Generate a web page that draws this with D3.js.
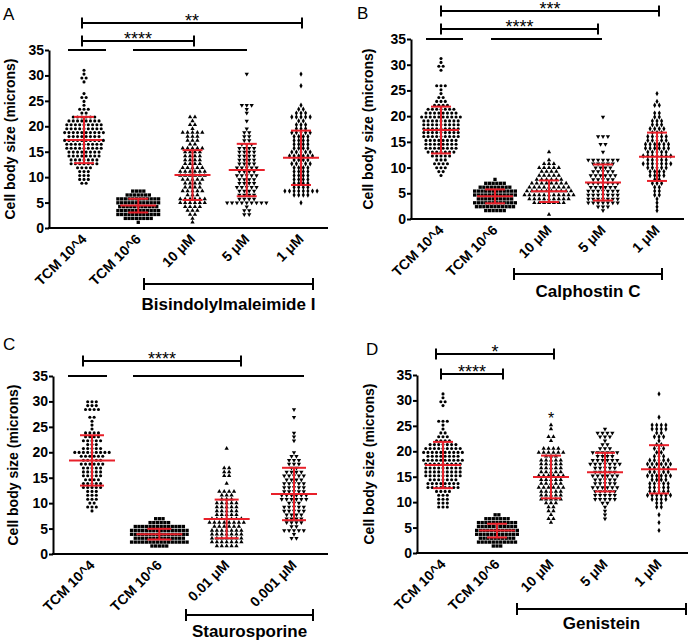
<!DOCTYPE html>
<html>
<head>
<meta charset="utf-8">
<script src="https://cdn.jsdelivr.net/npm/d3@7"></script>
<style>
  body { margin: 0; background: #fff; }
  svg { display: block; }
</style>
</head>
<body>
<svg id="chart" width="688" height="644"></svg>
<script>
// ---------- data (cell body size, microns) ----------
const yTicks = [0, 5, 10, 15, 20, 25, 30, 35]

const catsA = ["TCM 10^4", "TCM 10^6", "10 \u03bcM", "5 \u03bcM", "1 \u03bcM"]
const catsB = ["TCM 10^4", "TCM 10^6", "10 \u03bcM", "5 \u03bcM", "1 \u03bcM"]
const catsC = ["TCM 10^4", "TCM 10^6", "0.01 \u03bcM", "0.001 \u03bcM"]
const catsD = ["TCM 10^4", "TCM 10^6", "10 \u03bcM", "5 \u03bcM", "1 \u03bcM"]

const tcm4 = [31.2, 30.4, 29.7, 29.5, 28.7, 26.1, 25.8, 25.6, 25.2, 24.4, 23.6, 23.5, 23.0, 22.7, 22.5, 22.2,
  22.0, 21.9, 21.8, 21.6, 21.5, 21.4, 21.3, 21.2, 21.0, 21.0, 20.9, 20.8, 20.7, 20.6, 20.5, 20.5, 20.4, 20.3, 20.2, 20.1,
  20.0, 20.0, 19.9, 19.8, 19.7, 19.6, 19.5, 19.5, 19.4, 19.3, 19.2, 19.1, 19.0, 19.0, 18.9, 18.8, 18.7, 18.6, 18.5, 18.5,
  18.4, 18.3, 18.2, 18.1, 18.0, 18.0, 17.9, 17.8, 17.7, 17.6, 17.5, 17.5, 17.4, 17.3, 17.2, 17.1, 17.0, 17.0, 16.9, 16.8,
  16.7, 16.6, 16.5, 16.5, 16.4, 16.3, 16.2, 16.1, 16.0, 16.0, 15.9, 15.8, 15.7, 15.6, 15.5, 15.5, 15.4, 15.3, 15.2, 15.1,
  15.0, 14.9, 14.8, 14.7, 14.6, 14.5, 14.4, 14.3, 14.2, 14.1, 14.0, 13.9, 13.8, 13.7, 13.6, 13.5, 13.4, 13.3, 13.2, 13.1,
  13.0, 12.9, 12.8, 12.7, 12.6, 12.5, 12.4, 12.2, 12.0, 11.8, 11.5, 11.3, 11.1, 10.9, 10.6, 10.4, 10.1, 9.8, 9.6, 9.3, 9.0, 8.7]
const tcm6 = [7.4, 7.2, 7.0, 6.9, 6.8, 6.7, 6.6, 6.5, 6.4, 6.3, 6.2, 6.1, 6.1, 6.0, 5.9, 5.9, 5.8, 5.7, 5.7, 5.6, 5.5, 5.5,
  5.4, 5.3, 5.3, 5.2, 5.1, 5.1, 5.0, 4.9, 4.9, 4.8, 4.7, 4.7, 4.6, 4.5, 4.5, 4.4, 4.3, 4.3, 4.2, 4.1, 4.1, 4.0, 3.9, 3.9,
  3.8, 3.7, 3.7, 3.6, 3.5, 3.5, 3.4, 3.3, 3.3, 3.2, 3.1, 3.1, 3.0, 2.9, 2.9, 2.8, 2.7, 2.7, 2.6, 2.5, 2.5, 2.4, 2.3, 2.3,
  2.2, 2.1, 2.1, 2.0, 1.9, 1.8, 1.7, 1.6, 1.5]

const bis10 = [22.0, 21.6, 21.2, 20.5, 20.1, 19.4, 19.1, 18.9, 18.8, 18.6, 18.4, 18.2, 18.1, 17.8, 17.5, 17.3, 17.0, 16.6,
  16.2, 16.0, 15.9, 15.7, 15.5, 15.4, 15.2, 15.0, 14.8, 14.6, 14.4, 14.3, 14.1, 13.9, 13.7, 13.5, 13.3, 13.1, 13.0, 12.8,
  12.6, 12.4, 12.2, 12.0, 11.9, 11.7, 11.5, 11.4, 11.2, 11.1, 11.0, 10.9, 10.8, 10.6, 10.5, 10.4, 10.3, 10.2, 10.0, 9.9,
  9.7, 9.5, 9.4, 9.2, 9.0, 8.8, 8.7, 8.5, 8.3, 8.1, 7.9, 7.8, 7.6, 7.4, 7.2, 7.0, 6.9, 6.7, 6.5, 6.3, 6.1, 6.0, 5.8, 5.7,
  5.5, 5.4, 5.2, 5.1, 5.0, 4.8, 4.7, 4.6, 4.5, 4.4, 4.2, 4.0, 3.8, 3.5, 3.2, 2.9, 2.6, 1.8, 1.4]
const bis5 = [30.0, 24.4, 24.1, 23.8, 23.4, 22.5, 21.2, 19.6, 19.1, 18.7, 18.3, 17.8, 17.4, 17.0, 16.7, 16.4, 16.1, 15.9,
  15.7, 15.5, 15.4, 15.2, 15.0, 14.8, 14.6, 14.4, 14.2, 14.0, 13.9, 13.7, 13.5, 13.3, 13.1, 12.9, 12.8, 12.6, 12.4, 12.2,
  12.0, 11.9, 11.7, 11.5, 11.4, 11.2, 11.0, 10.9, 10.7, 10.5, 10.4, 10.2, 10.0, 9.9, 9.7, 9.5, 9.3, 9.1, 8.9, 8.8, 8.6,
  8.4, 8.2, 8.0, 7.8, 7.7, 7.5, 7.3, 7.1, 6.9, 6.8, 6.6, 6.4, 6.2, 6.0, 5.9, 5.7, 5.5, 5.3, 5.1, 5.0, 5.0, 4.9, 4.9, 4.8,
  4.8, 4.8, 4.1, 3.6, 3.4, 2.9, 2.8]
const bis1 = [30.5, 27.7, 23.8, 23.5, 23.2, 22.6, 22.4, 22.3, 22.2, 22.2, 22.1, 22.0, 21.6, 21.3, 21.0, 20.6, 20.3, 20.0,
  19.7, 19.4, 19.2, 19.0, 18.9, 18.8, 18.7, 18.5, 18.3, 18.1, 17.9, 17.7, 17.5, 17.3, 17.1, 16.9, 16.7, 16.5, 16.3, 16.1,
  15.9, 15.8, 15.6, 15.4, 15.3, 15.1, 14.9, 14.8, 14.6, 14.4, 14.3, 14.1, 14.0, 13.9, 13.8, 13.6, 13.4, 13.3, 13.1, 12.9,
  12.8, 12.6, 12.4, 12.3, 12.1, 11.9, 11.7, 11.5, 11.3, 11.1, 10.9, 10.8, 10.6, 10.4, 10.2, 10.0, 9.9, 9.7, 9.5, 9.3, 9.1,
  8.9, 8.7, 8.5, 8.3, 8.1, 7.9, 7.7, 7.5, 7.3, 7.2, 7.1, 7.0, 7.0, 6.9, 6.9, 6.8, 6.7, 6.6, 6.4, 4.7]

const cal10 = [13.2, 11.3, 10.9, 10.7, 10.5, 10.3, 10.1, 10.0, 9.8, 9.6, 9.5, 9.3, 9.1, 9.0, 8.8, 8.6, 8.5, 8.3, 8.2, 8.0,
  7.9, 7.7, 7.6, 7.5, 7.4, 7.3, 7.2, 7.1, 7.0, 6.9, 6.8, 6.7, 6.6, 6.5, 6.4, 6.3, 6.2, 6.1, 6.0, 5.9, 5.8, 5.7, 5.6, 5.5,
  5.4, 5.3, 5.2, 5.1, 5.0, 4.9, 4.8, 4.7, 4.6, 4.5, 4.4, 4.3, 4.2, 4.1, 4.0, 3.9, 3.8, 3.7, 3.6, 3.5, 3.4, 3.3, 3.1,
  3.0, 2.9, 2.8, 0.8, 6.4, 5.6, 5.0, 4.4, 3.8, 6.1, 5.3, 4.7, 4.1]
const cal5 = [19.8, 16.4, 16.2, 15.9, 14.9, 14.6, 13.3, 11.8, 11.7, 11.6, 11.5, 11.4, 11.3, 11.2, 11.0, 10.8, 10.6, 10.4,
  10.2, 10.0, 9.8, 9.6, 9.4, 9.2, 9.0, 8.8, 8.7, 8.5, 8.3, 8.1, 8.0, 7.8, 7.6, 7.5, 7.3, 7.1, 7.0, 6.8, 6.6, 6.5, 6.3, 6.1,
  6.0, 5.8, 5.7, 5.5, 5.4, 5.2, 5.1, 4.9, 4.8, 4.6, 4.5, 4.3, 4.2, 4.0, 3.9, 3.7, 3.6, 3.4, 3.3, 3.1, 3.0, 2.8, 2.6, 2.4,
  2.2, 2.0, 10.5, 9.5, 8.6, 7.7, 6.9, 6.2, 5.6, 4.7, 4.1, 3.5, 2.9, 8.9, 7.2, 5.9, 5.0, 3.8]
const cal1 = [24.5, 22.6, 22.2, 21.8, 20.6, 20.3, 20.0, 19.6, 19.3, 19.0, 18.7, 18.5, 18.3, 18.0, 17.8, 17.6, 17.4, 17.2,
  17.0, 16.8, 16.6, 16.4, 16.2, 16.0, 15.9, 15.7, 15.5, 15.4, 15.2, 15.0, 14.9, 14.7, 14.5, 14.4, 14.2, 14.0, 13.9, 13.7,
  13.5, 13.4, 13.2, 13.0, 12.9, 12.7, 12.5, 12.4, 12.2, 12.0, 11.9, 11.7, 11.5, 11.4, 11.2, 11.0, 10.9, 10.7, 10.5, 10.4,
  10.2, 10.0, 9.9, 9.7, 9.5, 9.4, 9.2, 9.0, 8.8, 8.6, 8.4, 8.2, 7.9, 7.6, 7.3, 7.0, 6.7, 6.4, 6.1, 5.8, 5.5, 5.0, 4.5, 3.9,
  2.9, 2.3, 1.8, 15.6, 14.6, 13.6, 12.6, 11.6, 10.6, 9.6, 12.1, 11.1, 13.1]

const stauTcm4 = [30.0, 29.7, 29.6, 29.1, 29.0, 28.9, 28.6, 28.5, 28.4, 28.3, 27.0, 26.8, 26.2, 25.5, 24.3, 24.0, 23.9,
  23.7, 23.5, 23.3, 23.1, 22.9, 22.7, 22.5, 22.3, 22.1, 21.9, 21.7, 21.5, 21.3, 21.1, 20.9, 20.7, 20.5, 20.3, 20.2, 20.1,
  20.0, 19.9, 19.8, 19.7, 19.6, 19.5, 19.4, 19.3, 19.1, 18.9, 18.7, 18.5, 18.3, 18.1, 17.9, 17.7, 17.5, 17.3, 17.1, 16.9,
  16.7, 16.5, 16.3, 16.1, 15.9, 15.7, 15.5, 15.3, 15.1, 14.9, 14.7, 14.5, 14.3, 14.1, 13.9, 13.7, 13.5, 13.3, 13.1, 12.9,
  12.7, 12.5, 12.3, 12.1, 11.9, 11.6, 11.3, 11.0, 10.7, 10.4, 10.1, 9.8, 9.5, 9.2, 8.9, 8.6, 20.0, 19.0, 18.0, 17.0, 16.0,
  15.0, 14.0, 13.0, 21.0, 22.0, 18.6, 17.6, 16.6]
const stauTcm6 = [7.2, 6.9, 6.6, 6.1, 6.0, 5.9, 5.9, 5.8, 5.8, 5.7, 5.7, 5.6, 5.6, 5.5, 5.5, 5.4, 5.4, 5.3, 5.3, 5.2, 5.2,
  5.1, 5.1, 5.0, 5.0, 4.9, 4.9, 4.8, 4.8, 4.7, 4.7, 4.6, 4.6, 4.5, 4.5, 4.4, 4.4, 4.3, 4.3, 4.2, 4.2, 4.1, 4.1, 4.0, 4.0,
  3.9, 3.9, 3.8, 3.8, 3.7, 3.7, 3.6, 3.6, 3.5, 3.5, 3.4, 3.4, 3.3, 3.3, 3.2, 3.2, 3.1, 3.1, 3.0, 3.0, 2.9, 2.9, 2.8, 2.8,
  2.7, 2.7, 2.6, 2.6, 2.5, 2.5, 2.4, 2.4, 2.3, 2.3, 2.2, 2.2, 2.1, 2.1, 2.0, 2.0, 1.9, 1.8, 1.7, 1.6, 1.5]
const stau001 = [20.5, 17.1, 16.7, 16.4, 16.0, 15.5, 15.2, 14.0, 12.4, 12.2, 12.1, 12.0, 11.8, 11.5, 11.2, 11.0, 10.8,
  10.5, 10.3, 10.1, 9.9, 9.7, 9.5, 9.3, 9.1, 8.9, 8.7, 8.5, 8.3, 8.1, 7.9, 7.7, 7.5, 7.3, 7.1, 6.9, 6.7, 6.5, 6.3, 6.1,
  5.9, 5.7, 5.5, 5.3, 5.1, 4.9, 4.7, 4.5, 4.3, 4.1, 3.9, 3.7, 3.5, 3.3, 3.1, 2.9, 2.7, 2.5, 2.3, 2.1, 1.9, 1.7, 1.5, 1.4,
  10.0, 9.0, 8.0, 7.0, 6.0, 5.0, 4.0, 3.0, 2.0, 6.4, 5.4, 4.4, 3.4, 2.6, 7.4, 6.2, 5.2, 4.2, 3.2, 2.2, 8.6, 7.2, 4.8, 3.8,
  2.8, 1.8, 5.8, 6.8]
const stau0001 = [28.5, 26.6, 23.6, 23.3, 22.1, 19.6, 19.3, 19.0, 18.8, 18.5, 18.3, 18.0, 17.7, 17.4, 17.1, 16.8, 16.5,
  16.2, 16.0, 15.8, 15.6, 15.4, 15.2, 15.0, 14.8, 14.6, 14.4, 14.2, 14.0, 13.8, 13.6, 13.4, 13.2, 13.0, 12.8, 12.6, 12.4,
  12.2, 12.0, 11.8, 11.6, 11.4, 11.2, 11.0, 10.8, 10.6, 10.4, 10.2, 10.0, 9.8, 9.6, 9.4, 9.2, 9.0, 8.8, 8.6, 8.4, 8.2, 8.0,
  7.8, 7.6, 7.4, 7.2, 7.0, 6.8, 6.6, 6.4, 6.2, 6.0, 5.8, 5.6, 5.3, 5.0, 4.8, 4.6, 4.5, 4.3, 3.8, 3.4, 2.8, 15.5, 14.5,
  13.5, 12.5, 11.5, 10.5, 9.5, 8.5, 12.9, 11.9, 10.9]

const gen10 = [24.9, 24.0, 23.0, 22.6, 21.7, 20.6, 20.4, 20.3, 20.2, 20.1, 20.0, 19.8, 19.6, 19.4, 19.2, 19.0, 18.8, 18.6,
  18.4, 18.2, 18.0, 17.8, 17.6, 17.4, 17.2, 17.0, 16.8, 16.6, 16.4, 16.2, 16.0, 15.8, 15.6, 15.4, 15.2, 15.0, 14.8, 14.6,
  14.4, 14.2, 14.0, 13.8, 13.6, 13.4, 13.2, 13.0, 12.8, 12.6, 12.4, 12.2, 12.0, 11.8, 11.6, 11.4, 11.2, 11.0, 10.8, 10.6,
  10.4, 10.2, 10.0, 9.8, 9.5, 9.2, 8.8, 8.5, 8.0, 7.3, 7.0, 6.6, 6.2, 17.5, 16.5, 15.5, 14.5, 13.5, 12.5, 11.5, 10.5,
  15.1, 14.1, 13.1, 16.1, 18.5, 19.5, 12.1]
const gen5 = [24.0, 23.6, 23.5, 23.4, 23.3, 22.9, 22.7, 22.5, 22.0, 21.5, 21.0, 20.6, 20.3, 20.0, 19.8, 19.6, 19.4, 19.2,
  19.0, 18.8, 18.6, 18.4, 18.2, 18.0, 17.8, 17.6, 17.4, 17.2, 17.0, 16.8, 16.6, 16.4, 16.2, 16.0, 15.8, 15.6, 15.4, 15.2,
  15.0, 14.8, 14.6, 14.4, 14.2, 14.0, 13.8, 13.6, 13.4, 13.2, 13.0, 12.8, 12.6, 12.4, 12.2, 12.0, 11.8, 11.6, 11.4, 11.2,
  11.0, 10.8, 10.6, 10.4, 10.2, 10.0, 9.5, 9.0, 8.5, 7.3, 6.5, 20.1, 19.1, 18.1, 17.1, 16.1, 15.1, 14.1, 13.1, 12.1, 19.5,
  18.5, 17.5, 16.5, 15.5, 14.5, 13.5, 12.5, 11.5, 10.5, 20.2, 17.3]
const gen1 = [31.2, 26.5, 25.0, 25.0, 24.9, 24.8, 24.7, 24.6, 24.2, 24.0, 23.9, 23.6, 23.2, 22.9, 22.5, 22.0, 21.6, 21.2,
  20.8, 20.5, 20.2, 19.9, 19.6, 19.3, 19.0, 18.8, 18.6, 18.4, 18.2, 18.0, 17.8, 17.6, 17.4, 17.2, 17.0, 16.8, 16.6, 16.4,
  16.2, 16.0, 15.8, 15.6, 15.4, 15.2, 15.0, 14.8, 14.6, 14.4, 14.2, 14.0, 13.8, 13.6, 13.4, 13.2, 13.0, 12.8, 12.6, 12.4,
  12.2, 12.0, 11.8, 11.6, 11.4, 11.2, 11.0, 10.8, 10.6, 10.3, 10.0, 9.6, 9.2, 8.7, 7.8, 6.2, 4.5, 18.5, 17.5, 16.5, 15.5,
  14.5, 13.5, 12.5, 11.5, 17.1, 16.1, 15.1, 12.1, 11.1, 10.9]

// mean and SD drawn in red
const meansA = [17.3, 4.4, 10.4, 11.4, 13.8]
const sdsA = [4.55, 1.35, 4.9, 5.15, 5.35]
const meansB = [17.3, 4.4, 5.4, 7.1, 12.1]
const sdsB = [4.55, 1.35, 2.1, 3.5, 4.7]
const meansC = [18.4, 3.9, 6.9, 11.8]
const sdsC = [4.95, 1.05, 3.8, 5.15]
const meansD = [17.3, 4.4, 14.95, 15.9, 16.45]
const sdsD = [4.55, 1.35, 4.2, 3.8, 4.75]

// ---------- layout ----------
const font = "'Liberation Sans', Arial, sans-serif"
const red = "#e8202a"
const rowH = 3.9

const panels = [
  {letter: "A", lx: 3, ly: 20, left: 49, right: 328, top: 50, bottom: 228, first: 84, last: 301, tx: 15,
   cats: catsA, groups: [tcm4, tcm6, bis10, bis5, bis1], means: meansA, sds: sdsA, mw: 18, cw: 10,
   sig: [{x0: 82, x1: 302, y: 23, t: "**"}, {x0: 82, x1: 194, y: 41, t: "****"}],
   refs: [{x0: 68, x1: 106}, {x0: 133, x1: 247}],
   treat: {x0: 144, x1: 313, y: 284, ty: 310, label: "Bisindolylmaleimide I"}},
  {letter: "B", lx: 357, ly: 19, left: 411, right: 684, top: 39, bottom: 219, first: 441, last: 657, tx: 373,
   cats: catsB, groups: [tcm4, tcm6, cal10, cal5, cal1], means: meansB, sds: sdsB, mw: 18, cw: 10,
   sig: [{x0: 441, x1: 659, y: 11, t: "***"}, {x0: 441, x1: 598, y: 29, t: "****"}],
   refs: [{x0: 426, x1: 463}, {x0: 491, x1: 602}],
   treat: {x0: 514, x1: 662, y: 274, ty: 297, label: "Calphostin C"}},
  {letter: "C", lx: 3, ly: 350, left: 53, right: 328, top: 376, bottom: 554, first: 92, last: 294, tx: 18,
   cats: catsC, groups: [stauTcm4, stauTcm6, stau001, stau0001], means: meansC, sds: sdsC, mw: 23, cw: 12,
   sig: [{x0: 83, x1: 241, y: 361, t: "****"}],
   refs: [{x0: 68, x1: 107}, {x0: 133, x1: 304}],
   treat: {x0: 186, x1: 313, y: 615, ty: 637, label: "Staurosporine"}},
  {letter: "D", lx: 366, ly: 355, left: 417, right: 688, top: 375, bottom: 553, first: 443, last: 659, tx: 374,
   cats: catsD, groups: [tcm4, tcm6, gen10, gen5, gen1], means: meansD, sds: sdsD, mw: 18, cw: 10,
   sig: [{x0: 436, x1: 554, y: 354, t: "*"}, {x0: 441, x1: 503, y: 374, t: "****"}],
   refs: [],
   treat: {x0: 517, x1: 686, y: 609, ty: 629, label: "Genistein"},
   note: {group: 2, value: 27.1, t: "*"}}
]

// circle, square, triangle up, triangle down, diamond
const markers = [
  {type: d3.symbolCircle, size: 7.5, rot: "", dx: 4.3},
  {type: d3.symbolSquare, size: 11, rot: "", dx: 3.7},
  {type: d3.symbolTriangle, size: 8, rot: "", dx: 4.9},
  {type: d3.symbolTriangle, size: 8, rot: " rotate(180)", dx: 4.9},
  {type: d3.symbolDiamond, size: 8.5, rot: "", dx: 4.6}
]

const svg = d3.select("#chart")

const hline = (g, x0, x1, y, w = 2, c = "#000") =>
  g.append("line").attr("x1", x0).attr("x2", x1).attr("y1", y).attr("y2", y)
    .attr("stroke", c).attr("stroke-width", w)
const vline = (g, x, y0, y1, w = 2, c = "#000") =>
  g.append("line").attr("x1", x).attr("x2", x).attr("y1", y0).attr("y2", y1)
    .attr("stroke", c).attr("stroke-width", w)

const drawPanel = p => {
  const g = svg.append("g")
  const y = d3.scaleLinear().domain([0, 35]).range([p.bottom, p.top])
  const x = d3.scalePoint().domain(p.cats).range([p.first, p.last])

  // y axis
  const yg = g.append("g").attr("transform", `translate(${p.left},0)`)
    .call(d3.axisLeft(y).tickValues(yTicks).tickSize(4).tickPadding(1).tickSizeOuter(0))
  yg.attr("font-family", font).attr("font-size", 14).attr("font-weight", "bold")
  yg.select(".domain").attr("stroke", "#000").attr("stroke-width", 2)
  yg.selectAll(".tick line").attr("stroke", "#000").attr("stroke-width", 2)
  yg.selectAll(".tick text").attr("fill", "#000")

  // x axis
  const xg = g.append("g").attr("transform", `translate(0,${p.bottom})`)
    .call(d3.axisBottom(x).tickSize(0))
  xg.select(".domain").remove()
  xg.attr("font-family", font).attr("font-size", 14).attr("font-weight", "bold")
  xg.selectAll(".tick text").attr("fill", "#000")
    .attr("text-anchor", "end").attr("dy", null).attr("y", 0)
    .attr("transform", "translate(3,12) rotate(-45)")
  hline(g, p.left - 1, p.right, p.bottom)

  // y title
  g.append("text").attr("transform", `translate(${p.tx},${(p.top + p.bottom) / 2}) rotate(-90)`)
    .attr("text-anchor", "middle").attr("font-family", font).attr("font-size", 14).attr("font-weight", "bold")
    .text("Cell body size (microns)")

  // panel letter
  g.append("text").attr("x", p.lx).attr("y", p.ly).attr("font-family", font).attr("font-size", 17)
    .text(p.letter)

  // points, laid out in rows like a scatter dot plot
  p.groups.forEach((vals, gi) => {
    const m = markers[gi]
    const cx = x(p.cats[gi])
    const rows = d3.group(vals.slice().sort((a, b) => b - a), v => Math.round(y(v) / rowH))
    const pts = []
    rows.forEach((vs, r) => vs.forEach((v, i) => pts.push({x: cx + (i - (vs.length - 1) / 2) * m.dx, y: r * rowH})))
    g.append("g").selectAll("path").data(pts).join("path")
      .attr("transform", d => `translate(${d.x},${d.y})${m.rot}`)
      .attr("d", d3.symbol().type(m.type).size(m.size))
      .attr("fill", "#000")
  })

  // mean +/- SD
  p.means.forEach((mean, gi) => {
    const cx = x(p.cats[gi]), sd = p.sds[gi]
    hline(g, cx - p.mw, cx + p.mw, y(mean), 2, red)
    hline(g, cx - p.cw, cx + p.cw, y(mean + sd), 2, red)
    hline(g, cx - p.cw, cx + p.cw, y(mean - sd), 2, red)
    vline(g, cx, y(mean + sd), y(mean - sd), 2, red)
  })

  // significance brackets
  p.sig.forEach(s => {
    hline(g, s.x0, s.x1, s.y)
    vline(g, s.x0, s.y - 5.5, s.y + 5.5)
    vline(g, s.x1, s.y - 5.5, s.y + 5.5)
    g.append("text").attr("x", (s.x0 + s.x1) / 2).attr("y", s.y + 4).attr("text-anchor", "middle")
      .attr("font-family", font).attr("font-size", 18).text(s.t)
  })
  p.refs.forEach(r => hline(g, r.x0, r.x1, p.top))

  // treatment bracket
  const t = p.treat
  hline(g, t.x0, t.x1, t.y)
  vline(g, t.x0, t.y - 6, t.y + 6)
  vline(g, t.x1, t.y - 6, t.y + 6)
  g.append("text").attr("x", (t.x0 + t.x1) / 2).attr("y", t.ty).attr("text-anchor", "middle")
    .attr("font-family", font).attr("font-size", 17).attr("font-weight", "bold").text(t.label)

  if (p.note) {
    g.append("text").attr("x", x(p.cats[p.note.group])).attr("y", y(p.note.value) + 9)
      .attr("text-anchor", "middle").attr("font-family", font).attr("font-size", 16)
      .attr("fill", "#000").text(p.note.t)
  }
}

panels.forEach(drawPanel)
</script>
</body>
</html>
